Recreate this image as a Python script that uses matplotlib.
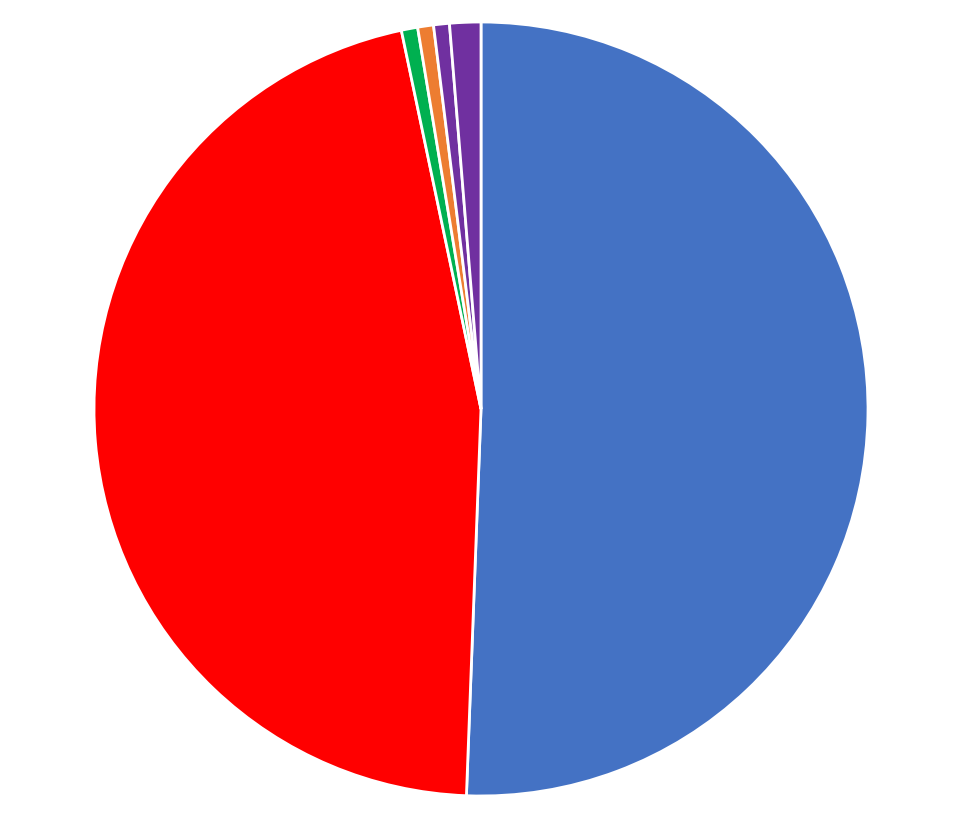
import matplotlib.pyplot as plt

# 数据（顺时针，从12点钟开始）
labels = ['A', 'B', 'C', 'D', 'E', 'F']
values = [50.6, 46.1, 0.68, 0.66, 0.66, 1.3]
colors = ['#4472C4', '#FF0000', '#00B050', '#ED7D31', '#7030A0', '#7030A0']

fig = plt.figure(figsize=(9.62, 8.2), dpi=100)
ax = fig.add_axes([0, 0, 1, 1])
ax.pie(values, colors=colors, startangle=90, counterclock=False,
       wedgeprops=dict(edgecolor='white', linewidth=2))
r = 387
ax.set_xlim(-481 / r, 481 / r)
ax.set_ylim(-410 / r, 410 / r)
ax.axis('off')
plt.savefig('out.png', dpi=100)
